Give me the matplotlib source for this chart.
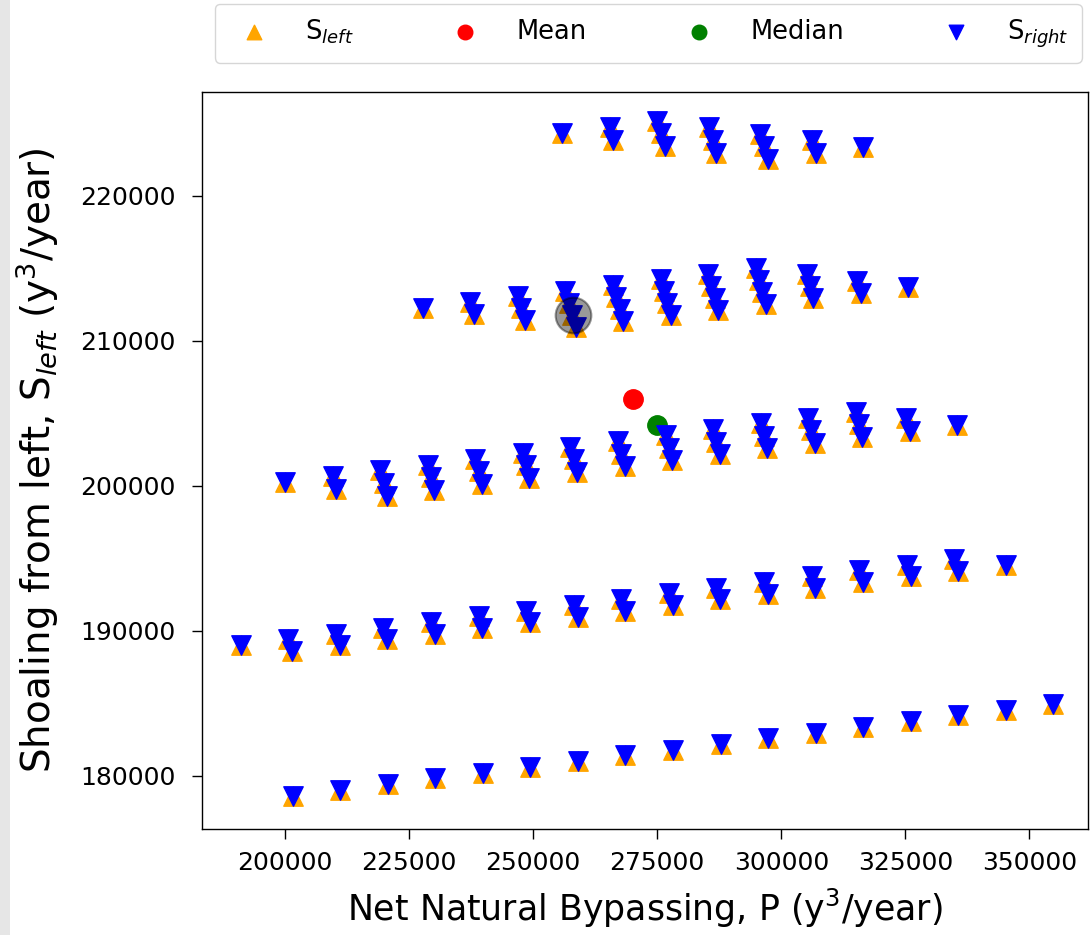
import matplotlib
matplotlib.use("Agg")
import matplotlib.pyplot as plt
from matplotlib.patches import Rectangle

# ---------------- data ----------------
# group 1 (lowest band)
p_g1 = [201550, 211130, 220710, 230290, 239870, 249450, 259020, 268600, 278180,
        287760, 297340, 306920, 316500, 326080, 335660, 345240, 354810]
s_g1 = [178640, 179040, 179430, 179830, 180220, 180620, 181010, 181410, 181800,
        182200, 182590, 182990, 183380, 183780, 184170, 184570, 184960]

# group 2
p_g2 = [191070, 200660, 210240, 219830, 229410, 239000, 248580, 258170, 267750,
        277340, 286920, 296510, 306090, 315680, 325260, 334850,
        201430, 211020, 220600, 230190, 239770, 249360, 258940, 268530, 278110,
        287700, 297280, 306870, 316450, 326040, 335620, 345210]
s_g2 = [189030, 189430, 189820, 190220, 190610, 191010, 191400, 191800, 192190,
        192590, 192980, 193380, 193770, 194170, 194560, 194960,
        188620, 189020, 189410, 189810, 190200, 190600, 190990, 191390, 191780,
        192180, 192570, 192970, 193360, 193760, 194150, 194550]

# group 3
p_g3 = [200060, 209640, 219210, 228790, 238370, 247950, 257520, 267100, 276680,
        286250, 295830, 305410, 314980,
        210300, 219870, 229450, 239030, 248600, 258180, 267760, 277340, 286910,
        296490, 306070, 315640, 325220,
        220530, 230110, 239690, 249260, 258840, 268420, 277990, 287570, 297150,
        306730, 316300, 325880, 335460]
s_g3 = [200260, 200660, 201070, 201470, 201880, 202290, 202690, 203100, 203500,
        203910, 204320, 204720, 205130,
        199800, 200200, 200610, 201010, 201420, 201830, 202230, 202640, 203040,
        203450, 203860, 204260, 204670,
        199340, 199740, 200150, 200560, 200960, 201370, 201770, 202180, 202590,
        202990, 203400, 203800, 204210]

# group 4
p_g4 = [227790, 237370, 246940, 256520, 266100, 275680, 285250, 294830,
        238050, 247620, 257200, 266780, 276350, 285930, 295510, 305090,
        248300, 257880, 267460, 277030, 286610, 296190, 305760, 315340,
        258560, 268140, 277710, 287290, 296870, 306440, 316020, 325600]
s_g4 = [212290, 212680, 213070, 213470, 213860, 214250, 214640, 215030,
        211860, 212250, 212640, 213030, 213420, 213820, 214210, 214600,
        211420, 211810, 212200, 212600, 212990, 213380, 213770, 214160,
        210990, 211380, 211770, 212160, 212550, 212950, 213340, 213730]

# group 5 (highest band)
p_g5 = [255760, 265390, 275020, 266140, 275770, 285400, 276510, 286150, 295780,
        286890, 296520, 306160, 297270, 306900, 316530]
s_g5 = [224330, 224770, 225200, 223880, 224320, 224750, 223430, 223870, 224300,
        222990, 223420, 223860, 222540, 222970, 223410]

# summary points
mean_p, mean_s = [270180], [205980]
median_p, median_s = [275020], [204210]
highlight_p, highlight_s = [258000], [211800]

x_ticks = [200000, 225000, 250000, 275000, 300000, 325000, 350000]
y_ticks = [180000, 190000, 200000, 210000, 220000]

# ---------------- assemble series ----------------
P = p_g1 + p_g2 + p_g3 + p_g4 + p_g5
S_left = s_g1 + s_g2 + s_g3 + s_g4 + s_g5
S_right = S_left  # the right-side shoaling markers sit on the same points

# ---------------- figure ----------------
plt.rcParams['font.family'] = ['DejaVu Sans']
fig = plt.figure(figsize=(10.92, 9.35), dpi=100)
fig.patches.append(Rectangle((0, 0), 10 / 1092, 1, transform=fig.transFigure,
                             facecolor='#e6e6e6', edgecolor='none', zorder=-5))

ax = fig.add_axes([202 / 1092, 1 - 829 / 935, 886 / 1092, 737 / 935])

msize = 195
ax.scatter(P, S_left, marker='^', color='orange', s=msize, label='S$_{left}$', zorder=2)
ax.scatter(mean_p, mean_s, marker='o', color='red', s=msize, label='Mean', zorder=2)
ax.scatter(median_p, median_s, marker='o', color='green', s=msize, label='Median', zorder=2)
ax.scatter(P, S_right, marker='v', color='blue', s=msize, label='S$_{right}$', zorder=3)
ax.scatter(highlight_p, highlight_s, marker='o', s=660, facecolor='black',
           edgecolor='black', linewidth=1.5, alpha=0.4, zorder=4)

ax.set_xlim(183280, 361800)
ax.set_ylim(176340, 227170)
ax.set_xticks(x_ticks)
ax.set_yticks(y_ticks)
ax.set_xticklabels([str(v) for v in x_ticks])
ax.set_yticklabels([str(v) for v in y_ticks])
ax.tick_params(axis='both', labelsize=18, length=7, width=1.0, color='black')
ax.tick_params(axis='x', pad=9)
ax.tick_params(axis='y', pad=12)
for sp in ax.spines.values():
    sp.set_linewidth(1.0)
    sp.set_color('black')

ax.set_xlabel('Net Natural Bypassing, P (y$^3$/year)', fontsize=25, labelpad=8)
ax.set_ylabel('Shoaling from left, S$_{left}$ (y$^3$/year)', fontsize=28, labelpad=14)

ax.legend(loc='lower left', bbox_to_anchor=(0.0147, 1.04, 0.978, 0.08), mode='expand',
          ncol=4, borderaxespad=0, fontsize=18.5, scatterpoints=1, markerscale=0.75,
          handletextpad=1.0, borderpad=0.5)

fig.savefig('out.png', dpi=100)
